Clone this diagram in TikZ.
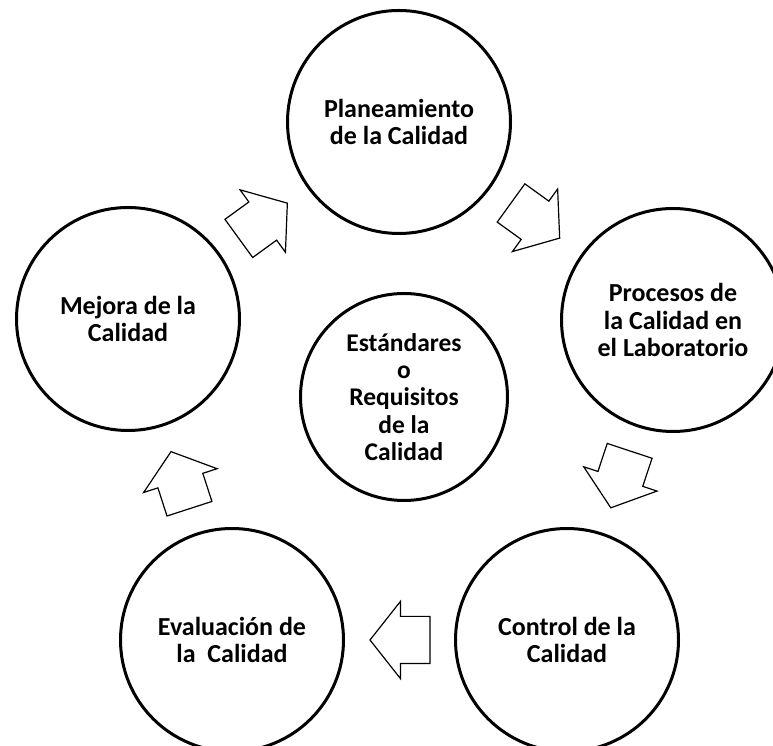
\documentclass[tikz,border=0pt]{standalone}
\usepackage{fontspec}
\setmainfont{Carlito}
\usetikzlibrary{shapes.arrows}
\tikzset{
  ring/.style={draw=black, circle, line width=3pt, minimum size=223pt, inner sep=0pt, align=center, font=\bfseries\fontsize{26}{27.8}\selectfont},
  core/.style={ring, minimum size=207pt, font=\bfseries\fontsize{25.5}{27.4}\selectfont},
  blk/.style={single arrow, draw=black, fill=white, line width=1.2pt, line join=miter, minimum height=60pt, inner xsep=0pt, inner ysep=23pt, single arrow head extend=15pt, single arrow tip angle=103.5, sloped, allow upside down, pos=0.41},
}

\begin{document}
\begin{tikzpicture}[x=1pt,y=1pt]
  \useasboundingbox (0,0) rectangle (773,746);
  \clip (0,0) rectangle (773,746);
  % the cycle
  \node[ring] (plan) at (399,624) {Planeamiento\\de la Calidad};
  \node[ring] (proc) at (673,426) {Procesos de\\la Calidad en\\el Laboratorio};
  \node[ring] (ctrl) at (567,106) {Control de la\\Calidad};
  \node[ring] (eval) at (232,106) {Evaluación de\\la~~Calidad};
  \node[ring] (mejora) at (128,427) {Mejora de la\\Calidad};
  % middle
  \node[core] (std) at (404,349) {Estándares\\o\\Requisitos\\de la\\Calidad};
  % block arrows between the circles
  \path (plan) -- node[blk] (a1) {} (proc);
  \path (proc) -- node[blk] (a2) {} (ctrl);
  \path (ctrl) -- node[blk] (a3) {} (eval);
  \path (eval) -- node[blk] (a4) {} (mejora);
  \path (mejora) -- node[blk] (a5) {} (plan);
\end{tikzpicture}
\end{document}
